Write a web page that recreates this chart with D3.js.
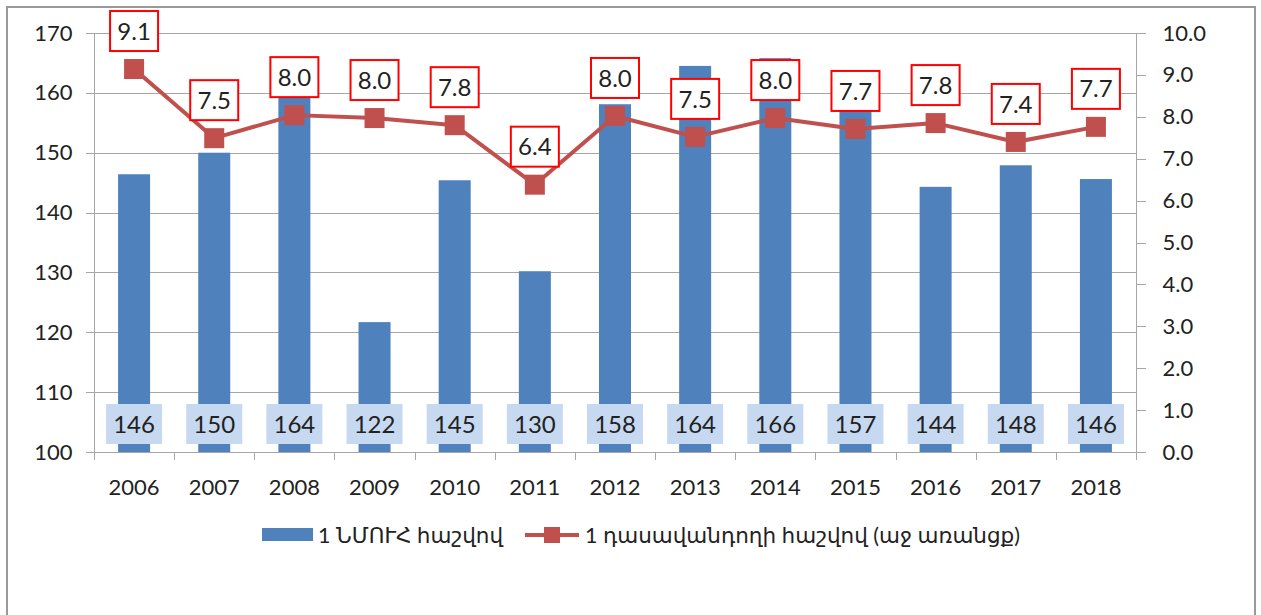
<!doctype html>
<html>
<head>
<meta charset="utf-8">
<script src="https://d3js.org/d3.v7.min.js"></script>
<style>
  body { margin: 0; background: #fff; }
  svg text { font-family: Lato, "DejaVu Sans", sans-serif; fill: #222; }
  .grid line { stroke: #a6a6a6; stroke-width: 1; shape-rendering: crispEdges; }
  .axis path, .axis line { stroke: #a6a6a6; shape-rendering: crispEdges; }
</style>
</head>
<body>
<svg id="chart" width="1261" height="615"></svg>
<script>
var years = ['2006','2007','2008','2009','2010','2011','2012','2013','2014','2015','2016','2017','2018'];
var perInst = [146.4, 150, 164.3, 121.7, 145.4, 130.2, 158.1, 164.5, 165.8, 157, 144.3, 147.9, 145.6];
var perInstLabels = ['146','150','164','122','145','130','158','164','166','157','144','148','146'];
var perTeacher = [9.14, 7.49, 8.04, 7.97, 7.8, 6.38, 8.02, 7.52, 7.97, 7.71, 7.85, 7.4, 7.76];
var perTeacherLabels = ['9.1','7.5','8.0','8.0','7.8','6.4','8.0','7.5','8.0','7.7','7.8','7.4','7.7'];
var leftTicks = [100,110,120,130,140,150,160,170];
var rightTicks = [0,1,2,3,4,5,6,7,8,9,10];
var legendNames = ['1 ՆՄՈՒՀ հաշվով', '1 դասավանդողի հաշվով (աջ առանցք)'];

var svg = d3.select('#chart');
var L = 94, R = 1136, T = 33, B = 452;

// outer frame
svg.append('rect').attr('x',7).attr('y',7).attr('width',1248).attr('height',640)
  .attr('fill','none').attr('stroke','#999').attr('stroke-width',2);

var x = d3.scaleBand().domain(years).range([L,R]);
var yL = d3.scaleLinear().domain([100,170]).range([B,T]);
var yR = d3.scaleLinear().domain([0,10]).range([B,T]);

// gridlines
svg.append('g').attr('class','grid').selectAll('line')
  .data(leftTicks).enter().append('line')
  .attr('x1',L-8).attr('x2',R)
  .attr('y1',d=>Math.round(yL(d))+0.5).attr('y2',d=>Math.round(yL(d))+0.5);

// left axis
var ga = svg.append('g').attr('class','axis').attr('transform','translate('+(L+0.5)+',0)')
  .call(d3.axisLeft(yL).tickValues(leftTicks).tickSize(0).tickPadding(22).tickFormat(d3.format('d')));
ga.select('.domain').remove();
ga.selectAll('text').style('font-size','22px');
svg.append('line').attr('x1',L+0.5).attr('x2',L+0.5).attr('y1',T).attr('y2',B+8).attr('stroke','#a6a6a6');

// right axis
var gr = svg.append('g').attr('class','axis').attr('transform','translate('+(R+0.5)+',0)')
  .call(d3.axisRight(yR).tickValues(rightTicks).tickSize(9).tickPadding(17).tickFormat(d3.format('.1f')));
gr.select('.domain').attr('d','M0,'+T+'V'+(B+8));
gr.selectAll('text').style('font-size','22px');

// x axis
var gx = svg.append('g').attr('class','axis').attr('transform','translate(0,'+(B+0.5)+')')
  .call(d3.axisBottom(x).tickSize(0).tickPadding(27));
gx.select('.domain').remove();
gx.selectAll('text').style('font-size','22px');
svg.append('line').attr('x1',L).attr('x2',R).attr('y1',B+0.5).attr('y2',B+0.5).attr('stroke','#a6a6a6');
svg.append('g').selectAll('line').data(years.slice(1)).enter().append('line')
  .attr('x1',d=>Math.round(x(d))+0.5).attr('x2',d=>Math.round(x(d))+0.5)
  .attr('y1',B).attr('y2',B+8).attr('stroke','#a6a6a6');

// bars
var bw = 32;
svg.append('g').selectAll('rect').data(perInst).enter().append('rect')
  .attr('x',(d,i)=>x(years[i])+x.bandwidth()/2-bw/2)
  .attr('width',bw)
  .attr('y',d=>yL(d))
  .attr('height',d=>B-yL(d))
  .attr('fill','#4f81bd');

// bar labels
var bl = svg.append('g').selectAll('g').data(perInstLabels).enter().append('g')
  .attr('transform',(d,i)=>'translate('+(x(years[i])+x.bandwidth()/2)+',424)');
bl.append('rect').attr('x',-28).attr('y',-20).attr('width',56).attr('height',40).attr('fill','#c6d9f1');
bl.append('text').attr('text-anchor','middle').attr('dy','0.36em').style('font-size','24px').text(d=>d);

// line
var line = d3.line().x((d,i)=>x(years[i])+x.bandwidth()/2).y(d=>yR(d));
svg.append('path').datum(perTeacher).attr('d',line)
  .attr('fill','none').attr('stroke','#c0504d').attr('stroke-width',4).attr('stroke-linejoin','round');
svg.append('g').selectAll('rect').data(perTeacher).enter().append('rect')
  .attr('x',(d,i)=>x(years[i])+x.bandwidth()/2-10)
  .attr('y',d=>yR(d)-10).attr('width',20).attr('height',20).attr('fill','#c0504d');

// line labels
var ll = svg.append('g').selectAll('g').data(perTeacherLabels).enter().append('g')
  .attr('transform',(d,i)=>'translate('+(x(years[i])+x.bandwidth()/2)+','+(yR(perTeacher[i])-38)+')');
ll.append('rect').attr('x',-24).attr('y',-20).attr('width',48).attr('height',40)
  .attr('fill','#fff').attr('stroke','#ff0000').attr('stroke-width',2);
ll.append('text').attr('text-anchor','middle').attr('dy','0.36em').style('font-size','24px').text(d=>d);

// legend
var lg = svg.append('g');
lg.append('rect').attr('x',262).attr('y',528).attr('width',51).attr('height',13).attr('fill','#4f81bd');
lg.append('text').attr('x',318).attr('y',535).attr('dy','0.35em').style('font-size','21.5px').text(legendNames[0]);
lg.append('line').attr('x1',525).attr('x2',579).attr('y1',535).attr('y2',535).attr('stroke','#c0504d').attr('stroke-width',4);
lg.append('rect').attr('x',544).attr('y',527).attr('width',16).attr('height',16).attr('fill','#c0504d');
lg.append('text').attr('x',585).attr('y',535).attr('dy','0.35em').style('font-size','21.5px').text(legendNames[1]);
</script>
</body>
</html>
